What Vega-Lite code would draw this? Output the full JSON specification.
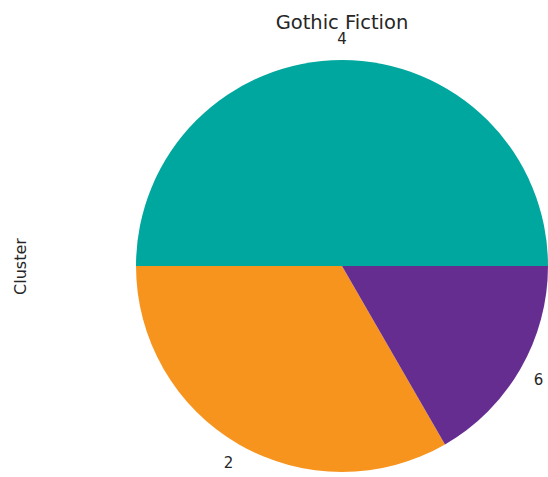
{
  "$schema": "https://vega.github.io/schema/vega-lite/v6.json",
  "width": 412,
  "height": 412,
  "autosize": "none",
  "padding": {"left": 136, "top": 60, "right": 0, "bottom": 5},
  "background": "white",
  "config": {"view": {"stroke": null}, "font": "DejaVu Sans"},
  "title": {
    "text": "Gothic Fiction",
    "font": "DejaVu Sans",
    "fontSize": 19.5,
    "fontWeight": "normal",
    "color": "#262626",
    "anchor": "middle",
    "frame": "group",
    "baseline": "bottom",
    "offset": 0,
    "dy": 20
  },
  "data": {
    "values": [
      {"cluster": "4", "count": 3},
      {"cluster": "2", "count": 2},
      {"cluster": "6", "count": 1}
    ]
  },
  "layer": [
    {
      "mark": {"type": "arc", "outerRadius": 206},
      "encoding": {
        "theta": {
          "field": "count",
          "type": "quantitative",
          "stack": true,
          "scale": {"range": [1.5707963, -4.712389]}
        },
        "order": {"field": "count", "sort": "descending"},
        "color": {
          "field": "cluster",
          "type": "nominal",
          "scale": {"domain": ["4", "2", "6"], "range": ["#00A79E", "#F7941E", "#662D91"]},
          "legend": null
        }
      }
    },
    {
      "mark": {"type": "text", "radius": 227, "fontSize": 15, "color": "#262626", "baseline": "middle"},
      "encoding": {
        "theta": {"field": "count", "type": "quantitative", "stack": true},
        "order": {"field": "count", "sort": "descending"},
        "text": {"field": "cluster"}
      }
    },
    {
      "mark": {"type": "rule", "opacity": 0},
      "encoding": {
        "y": {
          "field": "cluster",
          "type": "nominal",
          "axis": {
            "title": "Cluster",
            "labels": false,
            "ticks": false,
            "domain": false,
            "grid": false,
            "titleFont": "DejaVu Sans",
            "titleFontSize": 16,
            "titleFontWeight": "normal",
            "titleColor": "#262626",
            "titleX": -116,
            "titleY": 206,
            "titleAngle": 270,
            "titleAlign": "center",
            "titleBaseline": "middle"
          }
        }
      }
    }
  ]
}
